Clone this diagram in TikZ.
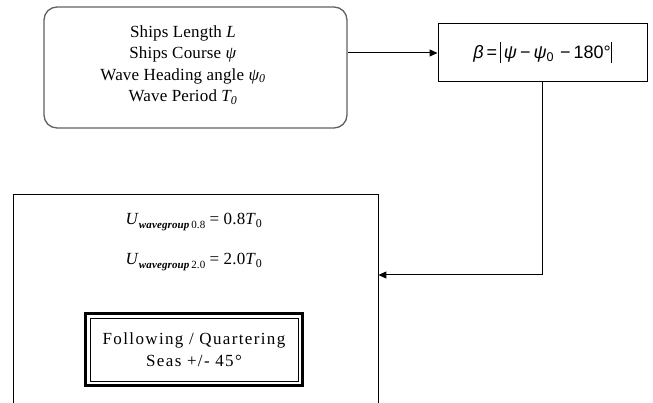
\documentclass[tikz,border=0pt]{standalone}
\usepackage{fontspec}
\setmainfont{Liberation Serif}[LetterSpace=1]
\newfontfamily\sansf{Liberation Sans}
\usetikzlibrary{arrows.meta}
\newcommand{\lowsub}[1]{\raisebox{-4pt}{\fontsize{11}{11}\selectfont #1}}
\begin{document}
\begin{tikzpicture}[x=1pt,y=-1pt,
  arr/.style={-{Triangle[length=8pt,width=7pt]}, line width=1pt},
  txt/.style={font=\fontsize{17}{21.5}\selectfont, align=center, inner sep=0pt},
  boxline/.style={line width=1pt},
]
\useasboundingbox (0,0) rectangle (653,403);
% input box
\node[draw=black!62, line width=1.3pt, rounded corners=13pt, minimum width=303pt, minimum height=121pt] (info) at (195.5,67.5) {};
\node[txt] (infotext) at (183,65)
  {Ships Length \textit{L}\\Ships Course \textit{ψ}\\Wave Heading angle \textit{ψ\textsubscript{0}}\\Wave Period \textit{T\textsubscript{0}}};
% beta box
\node[draw, boxline, minimum width=209pt, minimum height=58pt, txt] (beta) at (542.5,53)
  {\sansf\fontsize{18}{20}\selectfont\textit{β}\,=\,\rule[-5pt]{0.8pt}{21pt}\,\textit{ψ}\,−\,\textit{ψ}\textsubscript{0}\,\,−\,180°\rule[-5pt]{0.8pt}{21pt}};
% big open box
\node[minimum width=365pt, minimum height=215pt, anchor=north west, inner sep=0pt] (big) at (13,195) {};
\draw[boxline] (big.south west) -- (big.north west) -- (big.north east) -- (big.south east);
\node[txt] (u1) at (194,222) {\textit{U}\lowsub{\textbf{\textit{wavegroup}}\,0.8} = 0.8\textit{T}\textsubscript{0}};
\node[txt] (u2) at (194,262) {\textit{U}\lowsub{\textbf{\textit{wavegroup}}\,2.0} = 2.0\textit{T}\textsubscript{0}};
% double-framed box
\node[draw, line width=2.8pt, outer sep=0pt, minimum width=217pt, minimum height=72pt, txt] (seas) at (194,349.5)
  {\addfontfeatures{LetterSpace=8}Following / Quartering\\\addfontfeatures{LetterSpace=8}Seas +/- 45°};
\draw[line width=0.9pt] ([xshift=4.5pt,yshift=-4.5pt]seas.north west) rectangle ([xshift=-4.5pt,yshift=4.5pt]seas.south east);
% connectors
\draw[arr] (beta.west -| info.east) -- (beta.west);
\coordinate (bend) at (0,275);
\draw[arr] (beta.south) |- (big.east |- bend);
\end{tikzpicture}
\end{document}
